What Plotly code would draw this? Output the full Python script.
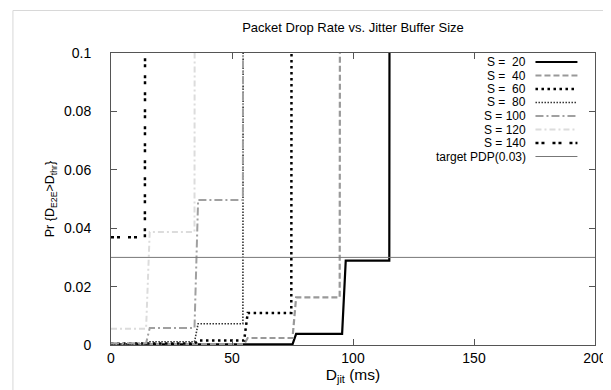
import plotly.graph_objects as go

# ---- data ----
s20_x = [0, 75, 76.5, 95.5, 97, 115, 116, 200]
s20_y = [0.0002, 0.0002, 0.0038, 0.0038, 0.0289, 0.0289, 1, 1]

s40_x = [0, 55, 56.5, 75, 76.5, 94.5, 95.5, 200]
s40_y = [0.0003, 0.0003, 0.0024, 0.0024, 0.0163, 0.0163, 1, 1]

s60_x = [0, 34.5, 36, 55, 56.5, 74.5, 75.5, 200]
s60_y = [0.0005, 0.0005, 0.0015, 0.0015, 0.011, 0.011, 1, 1]

s80_x = [0, 14.5, 16, 34.5, 36, 54.5, 55.5, 200]
s80_y = [0.0003, 0.0003, 0.0011, 0.0011, 0.0073, 0.0073, 1, 1]

s100_x = [0, 14.5, 16, 34.5, 36, 54.5, 55.5, 200]
s100_y = [0.0006, 0.0006, 0.0058, 0.0058, 0.0497, 0.0497, 1, 1]

s120_x = [0, 14.5, 16, 34.5, 35.5, 200]
s120_y = [0.0056, 0.0056, 0.0387, 0.0387, 1, 1]

s140_x = [0, 14, 15, 200]
s140_y = [0.0369, 0.0369, 1, 1]

target_x = [0, 200]
target_y = [0.03, 0.03]

legend_labels = ["S =  20", "S =  40", "S =  60", "S =  80", "S = 100", "S = 120", "S = 140",
                 "target PDP(0.03)"]
x_ticks = [0, 50, 100, 150, 200]
y_ticks = [0, 0.02, 0.04, 0.06, 0.08, 0.1]
y_ticktext = ["0", "0.02", "0.04", "0.06", "0.08", "0.1"]

styles = [
    dict(color="#000000", width=2.2, dash="solid"),
    dict(color="#999999", width=2.2, dash="6px,3px"),
    dict(color="#000000", width=2.5, dash="2.5px,3.5px"),
    dict(color="#333333", width=1.6, dash="1.5px,1.5px"),
    dict(color="#a0a0a0", width=2, dash="8px,3px,2px,3px"),
    dict(color="#dcdcdc", width=2, dash="6px,3px,2px,3px"),
    dict(color="#000000", width=2.5, dash="3px,3px,3px,8px"),
    dict(color="#777777", width=1, dash="solid"),
]
xs_all = [s20_x, s40_x, s60_x, s80_x, s100_x, s120_x, s140_x, target_x]
ys_all = [s20_y, s40_y, s60_y, s80_y, s100_y, s120_y, s140_y, target_y]

fig = go.Figure()
for name, xs, ys, ln in zip(legend_labels, xs_all, ys_all, styles):
    fig.add_trace(go.Scatter(x=xs, y=ys, mode="lines", name=name, line=ln, showlegend=False))

# ---- gnuplot-style key (text right-aligned, sample on its right) ----
W, H = 611, 390
ML, MR, MT, MB = 103, 12, 45, 53
pw, ph = W - ML - MR, H - MT - MB
def px_to_paper_x(px):
    return (px - ML) / pw
def px_to_paper_y(py):
    return (H - MB - py) / ph

key_font = dict(family="Liberation Sans, Arial", size=12, color="#000000")
shapes = []
annotations = []
row0, row_step = 54, 13.5
for i, (name, ln) in enumerate(zip(legend_labels, styles)):
    yy = px_to_paper_y(row0 + i * row_step)
    annotations.append(dict(xref="paper", yref="paper", x=px_to_paper_x(529), y=yy,
                            xanchor="right", yanchor="middle", text=name, showarrow=False,
                            font=key_font, borderpad=0))
    shapes.append(dict(type="line", xref="paper", yref="paper",
                       x0=px_to_paper_x(538), x1=px_to_paper_x(581), y0=yy, y1=yy,
                       line=dict(color=ln["color"], width=ln["width"], dash=ln["dash"])))

# outer light frame of the image
shapes.append(dict(type="rect", xref="paper", yref="paper",
                   x0=px_to_paper_x(2.5), x1=px_to_paper_x(608),
                   y0=px_to_paper_y(387), y1=px_to_paper_y(2.5),
                   line=dict(color="#d8d8d8", width=1), layer="below"))

axis_common = dict(
    showgrid=False, zeroline=False, showline=True, linecolor="#555555", linewidth=1,
    mirror="ticks", ticks="inside", ticklen=6, tickcolor="#555555",
    ticklabeloverflow="allow",
    tickfont=dict(family="Liberation Sans, Arial", size=14, color="#000000"),
)

fig.update_layout(
    width=W, height=H,
    margin=dict(l=ML, r=MR, t=MT, b=MB),
    paper_bgcolor="white", plot_bgcolor="white",
    showlegend=False,
    title=dict(text="Packet Drop Rate vs. Jitter Buffer Size", x=0.5, xref="paper",
               y=0.95, yanchor="middle",
               font=dict(family="Liberation Sans, Arial", size=13, color="#000000")),
    xaxis=dict(range=[0, 200], tickvals=x_ticks,
               title=dict(text="D<sub>jit</sub> (ms)", standoff=4,
                          font=dict(family="Liberation Sans, Arial", size=15.5, color="#000000")),
               **axis_common),
    yaxis=dict(range=[0, 0.1], tickvals=y_ticks, ticktext=y_ticktext, ticklabelstandoff=16,
               title=dict(text="Pr {D<sub>E2E</sub>>D<sub>thr</sub>}", standoff=6,
                          font=dict(family="Liberation Sans, Arial", size=12.5, color="#000000")),
               **axis_common),
    shapes=shapes,
    annotations=annotations,
)

fig.write_html("out.html")
